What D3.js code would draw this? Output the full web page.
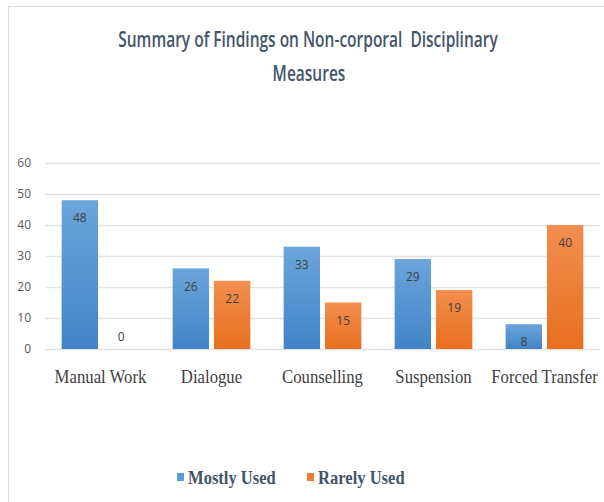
<!DOCTYPE html>
<html>
<head>
<meta charset="utf-8">
<script src="https://cdn.jsdelivr.net/npm/d3@7"></script>
<style>
  body { margin: 0; background: #fff; }
  svg { display: block; }
</style>
</head>
<body>
<div id="chart"></div>
<script>
// chart data
const categories = ["Manual Work", "Dialogue", "Counselling", "Suspension", "Forced Transfer"];
const seriesNames = ["Mostly Used", "Rarely Used"];
const mostlyUsed = [48, 26, 33, 29, 8];
const rarelyUsed = [0, 22, 15, 19, 40];
const yTicks = [0, 10, 20, 30, 40, 50, 60];

const width = 604, height = 502;
const margin = { top: 163, right: 4, bottom: 153, left: 45 };

const svg = d3.select("#chart").append("svg")
  .attr("width", width)
  .attr("height", height);

// gradients for the bars
const defs = svg.append("defs");
const grads = [
  { id: "gBlue", top: "#6aa5db", bottom: "#4284c6" },
  { id: "gOrange", top: "#f28e4f", bottom: "#e86f1f" }
];
grads.forEach(g => {
  const lg = defs.append("linearGradient").attr("id", g.id)
    .attr("x1", 0).attr("y1", 0).attr("x2", 0).attr("y2", 1);
  lg.append("stop").attr("offset", "0%").attr("stop-color", g.top);
  lg.append("stop").attr("offset", "100%").attr("stop-color", g.bottom);
});

// chart frame
svg.append("rect")
  .attr("x", 8.5).attr("y", 6.5)
  .attr("width", width).attr("height", height)
  .attr("fill", "none")
  .attr("stroke", "#d9d9d9")
  .attr("stroke-width", 1);

const x0 = d3.scaleBand()
  .domain(categories)
  .range([margin.left, width - margin.right])
  .paddingInner(0.3)
  .paddingOuter(0.15);

const x1 = d3.scaleBand()
  .domain(seriesNames)
  .range([0, x0.bandwidth()])
  .paddingInner(0.12);

const y = d3.scaleLinear()
  .domain([0, 60])
  .range([height - margin.bottom, margin.top]);

// gridlines
svg.append("g")
  .selectAll("line")
  .data(yTicks)
  .join("line")
  .attr("x1", margin.left)
  .attr("x2", width - margin.right)
  .attr("y1", d => Math.round(y(d)) + 0.5)
  .attr("y2", d => Math.round(y(d)) + 0.5)
  .attr("stroke", "#e3e3e3")
  .attr("stroke-width", 1.3);

// y axis labels
svg.append("g")
  .selectAll("text")
  .data(yTicks)
  .join("text")
  .attr("x", 31)
  .attr("y", d => y(d))
  .attr("dy", "0.35em")
  .attr("text-anchor", "end")
  .attr("font-family", "'Open Sans', 'Liberation Sans', sans-serif")
  .attr("font-size", 12)
  .attr("fill", "#595959")
  .text(d => d);

const rows = categories.map((c, i) => ({
  cat: c,
  vals: [
    { key: seriesNames[0], value: mostlyUsed[i], fill: "url(#gBlue)" },
    { key: seriesNames[1], value: rarelyUsed[i], fill: "url(#gOrange)" }
  ]
}));

const group = svg.append("g")
  .selectAll("g")
  .data(rows)
  .join("g")
  .attr("transform", d => `translate(${x0(d.cat)},0)`);

group.selectAll("rect")
  .data(d => d.vals)
  .join("rect")
  .attr("x", d => x1(d.key))
  .attr("y", d => y(d.value))
  .attr("width", x1.bandwidth())
  .attr("height", d => y(0) - y(d.value))
  .attr("fill", d => d.fill);

// value labels inside bars
group.selectAll("text")
  .data(d => d.vals)
  .join("text")
  .attr("x", d => x1(d.key) + x1.bandwidth() / 2)
  .attr("y", d => d.value === 0 ? y(0) - 12 : y(d.value) + 18)
  .attr("dy", "0.35em")
  .attr("text-anchor", "middle")
  .attr("font-family", "'Open Sans', 'Liberation Sans', sans-serif")
  .attr("font-size", 12)
  .attr("fill", "#404040")
  .text(d => d.value);

// category labels
svg.append("g")
  .selectAll("text")
  .data(categories)
  .join("text")
  .attr("x", d => x0(d) + x0.bandwidth() / 2)
  .attr("y", 383)
  .attr("text-anchor", "middle")
  .attr("font-family", "'Liberation Serif', 'Times New Roman', serif")
  .attr("font-size", 18)
  .attr("fill", "#404040")
  .attr("transform", d => {
    const cx = x0(d) + x0.bandwidth() / 2;
    return `translate(${cx},0) scale(0.93,1) translate(${-cx},0)`;
  })
  .text(d => d);

// title, narrowed with a horizontal scale
const titleFont = "'Open Sans', 'Liberation Sans', sans-serif";
const titleLines = [
  { text: "Summary of Findings on Non-corporal\u00a0 Disciplinary", cx: 308, y: 47 },
  { text: "Measures", cx: 309, y: 81 }
];
svg.append("g")
  .selectAll("text")
  .data(titleLines)
  .join("text")
  .attr("transform", d => `translate(${d.cx},${d.y}) scale(0.705,1)`)
  .attr("text-anchor", "middle")
  .attr("font-family", titleFont)
  .attr("font-weight", 600)
  .attr("font-size", 22)
  .attr("fill", "#44546a")
  .text(d => d.text);

// legend
const legendColors = ["#5b9bd5", "#ed7d31"];
const legendX = [177, 307];
const legend = svg.append("g")
  .selectAll("g")
  .data(seriesNames)
  .join("g")
  .attr("transform", (d, i) => `translate(${legendX[i]},484)`);

legend.append("rect")
  .attr("x", 0).attr("y", -11)
  .attr("width", 7).attr("height", 8)
  .attr("fill", (d, i) => legendColors[i]);

legend.append("text")
  .attr("x", 12)
  .attr("y", 0)
  .attr("font-family", "'Liberation Serif', 'Times New Roman', serif")
  .attr("font-weight", "bold")
  .attr("font-size", 18)
  .attr("fill", "#44546a")
  .attr("transform", "scale(0.92,1)")
  .text(d => d);
</script>
</body>
</html>
